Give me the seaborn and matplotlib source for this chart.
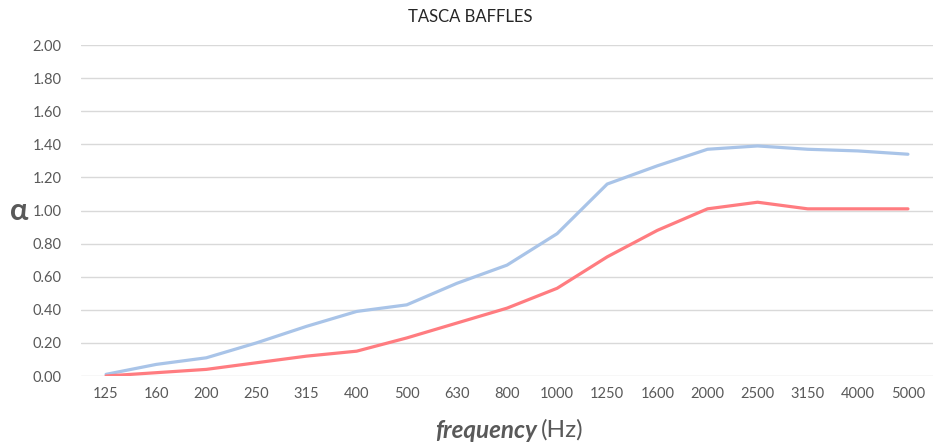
import pandas as pd
import seaborn as sns
import matplotlib.pyplot as plt

freqs = ['125', '160', '200', '250', '315', '400', '500', '630', '800',
         '1000', '1250', '1600', '2000', '2500', '3150', '4000', '5000']
alpha_blue = [0.01, 0.07, 0.11, 0.20, 0.30, 0.39, 0.43, 0.56, 0.67,
              0.86, 1.16, 1.27, 1.37, 1.39, 1.37, 1.36, 1.34]
alpha_red = [0.00, 0.02, 0.04, 0.08, 0.12, 0.15, 0.23, 0.32, 0.41,
             0.53, 0.72, 0.88, 1.01, 1.05, 1.01, 1.01, 1.01]
series_names = ['A', 'B']

df = pd.DataFrame({
    'freq': freqs * 2,
    'alpha': alpha_blue + alpha_red,
    'serie': [series_names[0]] * len(freqs) + [series_names[1]] * len(freqs),
})

sns.set_style('white')
plt.rcParams['font.family'] = ['Lato', 'DejaVu Sans']

grey = '#595959'
fig = plt.figure(figsize=(9.41, 4.47), dpi=100)
ax = fig.add_axes([81 / 941, 1 - 376 / 447, 852 / 941, 331 / 447])

sns.lineplot(data=df, x='freq', y='alpha', hue='serie', sort=False,
             palette={'A': '#A9C4E8', 'B': '#FF7C80'}, linewidth=2.3,
             legend=False, ax=ax)

ax.set_ylim(0, 2.0)
ax.set_xlim(-0.5, len(freqs) - 0.5)
ax.set_yticks([i * 0.2 for i in range(11)])
ax.set_yticklabels([f'{i * 0.2:.2f}' for i in range(11)])
ax.grid(axis='y', color='#D9D9D9', linewidth=1)
ax.set_axisbelow(True)
for s in ax.spines.values():
    s.set_visible(False)
ax.tick_params(axis='both', length=0, labelsize=10.5, labelcolor=grey)
ax.tick_params(axis='y', pad=14)
ax.tick_params(axis='x', pad=8)

# title centred on the figure, not the axes
fig.text(0.5, 1 - 17 / 447, 'TASCA BAFFLES', fontsize=12, color='#262626',
         ha='center', va='center')
ax.set_ylabel('α', fontsize=22, fontweight='bold', color=grey, rotation=0,
              va='center')
ax.yaxis.set_label_coords(-0.073, 0.5)
ax.set_xlabel('')
fig.text(537 / 941, 1 - 430 / 447, 'frequency', fontsize=17.5, fontweight='bold',
         fontstyle='italic', color=grey, ha='right', va='center')
fig.text(541 / 941, 1 - 430 / 447, '(Hz)', fontsize=17.5, color=grey,
         ha='left', va='center')

fig.savefig('out.png', dpi=100, facecolor='white')
